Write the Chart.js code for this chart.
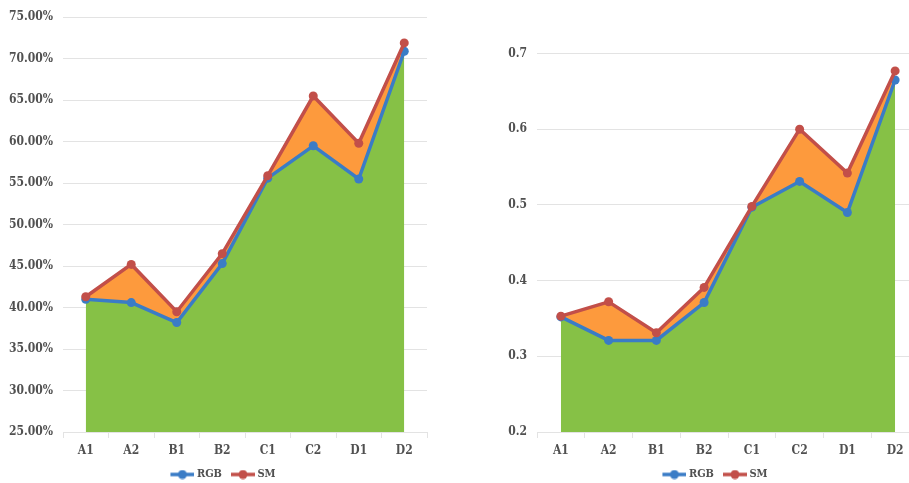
<!DOCTYPE html>
<html>
<head>
<meta charset="utf-8">
<script src="https://cdn.jsdelivr.net/npm/chart.js@4/dist/chart.umd.min.js"></script>
<style>
  html, body { margin: 0; padding: 0; background: #ffffff; }
  body { width: 909px; height: 483px; overflow: hidden; position: relative; }
  canvas { position: absolute; top: 0; }
  #left { left: 0; }
  #right { left: 492px; }
</style>
</head>
<body>
<canvas id="left" width="447" height="483"></canvas>
<canvas id="right" width="447" height="483"></canvas>
<script>
// Categories shared by both panels
const categories = ['A1', 'A2', 'B1', 'B2', 'C1', 'C2', 'D1', 'D2'];

// Left panel: percentages
const rgbPercent = [41.0, 40.6, 38.2, 45.3, 55.6, 59.5, 55.5, 70.9];
const smPercent  = [41.3, 45.2, 39.5, 46.5, 55.9, 65.5, 59.8, 71.9];
const percentTicks = { min: 25, max: 75, step: 5 };

// Right panel: fractions
const rgbScore = [0.352, 0.321, 0.321, 0.371, 0.497, 0.531, 0.490, 0.665];
const smScore  = [0.353, 0.372, 0.331, 0.391, 0.498, 0.600, 0.542, 0.677];
const scoreTicks = { min: 0.2, max: 0.7, step: 0.1 };

const seriesNames = ['RGB', 'SM'];

const BLUE = '#3a7cc6';
const RED = '#c24f49';
const GREEN = '#86c146';
const ORANGE = '#fd9a3d';
const GRID = '#e3e3e3';
const TEXT = '#505050';
const FAMILY = '"DejaVu Serif Condensed", "DejaVu Serif", serif';
const FONT = { family: FAMILY, size: 12, weight: 'bold' };
const LEGEND_FONT = { family: FAMILY, size: 11, weight: 'bold' };

// Legend icon: short line with a marker in the middle, with a small
// transparent lead-in so items sit a little apart
function legendIcon(color) {
  const lead = 6, len = 24;
  const c = document.createElement('canvas');
  c.width = lead + len; c.height = 10;
  const ctx = c.getContext('2d');
  ctx.strokeStyle = color;
  ctx.lineWidth = 3.5;
  ctx.beginPath();
  ctx.moveTo(lead, 5); ctx.lineTo(lead + len, 5);
  ctx.stroke();
  ctx.fillStyle = color;
  ctx.beginPath();
  ctx.arc(lead + len / 2, 5, 4.5, 0, Math.PI * 2);
  ctx.fill();
  return c;
}
const icons = [legendIcon(BLUE), legendIcon(RED)];

// Centre the legend under the whole panel rather than the padded box
const legendShift = {
  id: 'legendShift',
  afterLayout(chart, args, opts) {
    const lg = chart.legend;
    if (lg) { lg.left += opts.dx; lg.right += opts.dx; }
  }
};

function makeChart(id, rgb, sm, ticks, yWidth, topPad, fmt) {
  return new Chart(document.getElementById(id), {
    type: 'line',
    plugins: [legendShift],
    data: {
      labels: categories,
      datasets: [
        {
          label: seriesNames[0], data: rgb, order: 1,
          borderColor: BLUE, backgroundColor: GREEN, borderWidth: 3.5,
          pointRadius: 4.5, pointBackgroundColor: BLUE, pointBorderColor: BLUE, pointBorderWidth: 0,
          fill: 'start', tension: 0
        },
        {
          label: seriesNames[1], data: sm, order: 0,
          borderColor: RED, backgroundColor: ORANGE, borderWidth: 3.5,
          pointRadius: 4.5, pointBackgroundColor: RED, pointBorderColor: RED, pointBorderWidth: 0,
          fill: '-1', tension: 0
        }
      ]
    },
    options: {
      responsive: false,
      animation: false,
      layout: { padding: { left: 0, right: 20, top: topPad, bottom: 0 } },
      scales: {
        x: {
          offset: true,
          grid: { display: true, drawOnChartArea: false, drawTicks: true, tickLength: 6, color: GRID, offset: true },
          border: { display: true, color: GRID, width: 1 },
          ticks: { color: TEXT, font: FONT, padding: 6, maxRotation: 0 },
          afterFit(scale) { scale.height = 31; }
        },
        y: {
          min: ticks.min, max: ticks.max,
          grid: { color: GRID, lineWidth: 1, drawTicks: false },
          border: { display: false },
          ticks: { stepSize: ticks.step, color: TEXT, font: FONT, padding: 10, callback: fmt },
          afterFit(scale) { scale.width = yWidth; }
        }
      },
      plugins: {
        legendShift: { dx: 8 },
        filler: { drawTime: 'beforeDatasetsDraw' },
        tooltip: { enabled: false },
        legend: {
          position: 'bottom',
          maxHeight: 20,
          labels: {
            usePointStyle: true,
            pointStyleWidth: 24,
            padding: 6,
            color: TEXT,
            font: LEGEND_FONT,
            generateLabels(chart) {
              return chart.data.datasets.map((ds, i) => ({
                text: ds.label,
                pointStyle: icons[i],
                fillStyle: ds.borderColor,
                strokeStyle: ds.borderColor,
                lineWidth: 0,
                hidden: false,
                datasetIndex: i,
                fontColor: TEXT
              }));
            }
          }
        }
      }
    }
  });
}

makeChart('left', rgbPercent, smPercent, percentTicks, 63, 17, v => v.toFixed(2) + '%');
makeChart('right', rgbScore, smScore, scoreTicks, 45, 53.5, v => Number(v.toFixed(1)).toString());
</script>
</body>
</html>
